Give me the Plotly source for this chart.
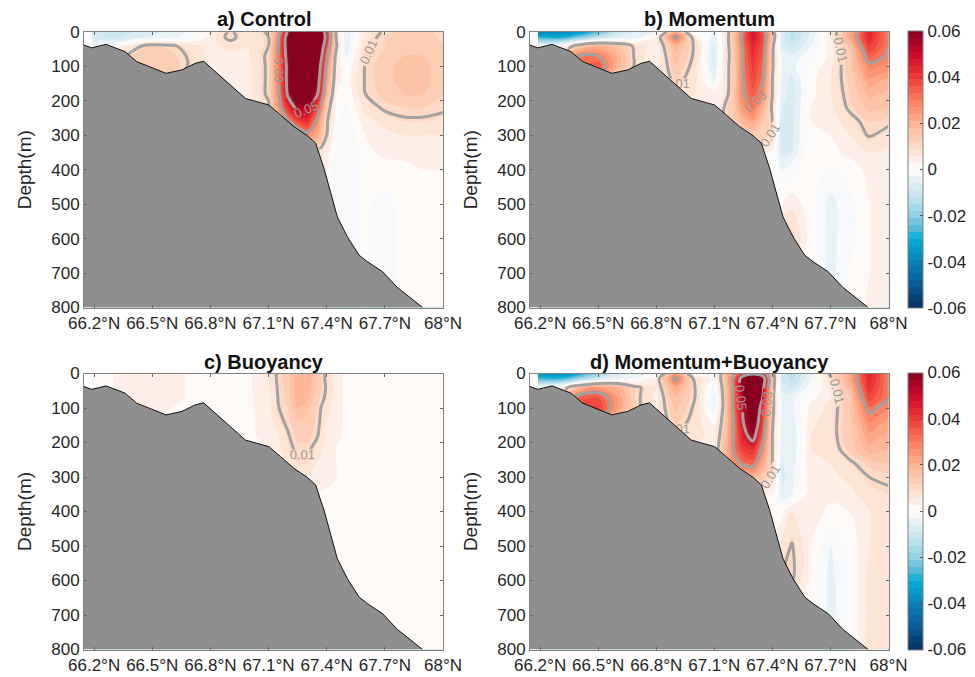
import numpy as np
import plotly.graph_objects as go

titles = ["a) Control", "b) Momentum", "c) Buoyancy", "d) Momentum+Buoyancy"]
tick_lat = [66.2, 66.5, 66.8, 67.1, 67.4, 67.7, 68.0]
tick_lat_text = ["66.2°N", "66.5°N", "66.8°N", "67.1°N", "67.4°N", "67.7°N", "68°N"]
tick_depth = [0, 100, 200, 300, 400, 500, 600, 700, 800]
cbar_vals = [-0.06, -0.04, -0.02, 0, 0.02, 0.04, 0.06]
cbar_text = ["-0.06", "-0.04", "-0.02", "0", "0.02", "0.04", "0.06"]

bathy_lat = [66.148, 66.188, 66.262, 66.36, 66.42, 66.498, 66.571, 66.653, 66.722, 66.765, 66.817, 66.903,
             66.981, 67.041, 67.102, 67.162, 67.231, 67.30, 67.343, 67.386, 67.455, 67.507, 67.567, 67.61,
             67.688, 67.765, 67.895]
bathy_depth = [38, 46, 36, 57, 86, 104, 120, 110, 91, 85, 110, 154,
               193, 203, 212, 241, 275, 301, 323, 396, 537, 595, 648, 667,
               696, 742, 800]

lat = [66.19, 66.3, 66.4, 66.5, 66.6, 66.7, 66.8, 66.9, 67.0, 67.1, 67.15, 67.2,
       67.25, 67.3, 67.35, 67.4, 67.45, 67.5, 67.6, 67.7, 67.8, 67.9, 68.0]
depth = [0, 15, 40, 70, 100, 140, 180, 220, 260, 300, 350, 400, 500, 600, 700, 800]

# values in thousandths
control = [
 [-6,-11,-9,-7,-5,-2,3,11,6,11,25,52,75,80,75,42,8,-6,6,11,13,13,11],
 [-8,-10,-7,-5,-4,-1,4,12,6,10,28,58,80,85,78,45,9,-6,7,12,14,14,11],
 [-3,0,8,12,11,7,5,7,6,10,30,58,85,90,75,38,11,-6,9,12,15,15,12],
 [3,6,12,14,13,9,5,5,6,11,30,56,85,90,68,32,7,-3,10,13,15,15,12],
 [3,6,12,14,14,9,5,5,5,11,29,54,82,88,62,28,6,0,10.5,14,16,16,13],
 [3,5,8,9,9,7,5,5,5,11,29,54,78,80,58,24,5,1,10.5,14,16,16,13],
 [3,5,6,6,6,5,4,4,5,11,28,52,72,68,52,20,3,0,10,13,15,15,12],
 [3,4,4,4,4,4,4,4,5,9,25,42,53,53,38,14,2,-1,7,11,12,12,11],
 [3,3,3,3,3,4,4,4,5,8,10,28,38,42,28,11,1,-2,5,7,9,9,8],
 [3,3,3,3,3,3,3,3,4,5,6,10,20,27,22,10,-1,-3,3,5,6,6,6],
 [3,3,3,3,3,3,3,3,3,3,4,5,10,12,10,5,-2,-3,2,4,4,4,4],
 [3,3,3,3,3,3,3,3,3,3,3,3,4,4,4,3,-2,-2,1,1,2,3,3],
 [3,3,3,3,3,3,3,3,3,3,3,3,3,3,2,1,-1,-1,0.5,-1,1,2,2],
 [3,3,3,3,3,3,3,3,3,3,3,3,3,3,2,1,-1,-1,0.5,-1.5,1,2,2],
 [3,3,3,3,3,3,3,3,3,3,3,3,3,3,2,1,-1,-1,0.5,-1.5,1,2,2],
 [3,3,3,3,3,3,3,3,3,3,3,3,3,3,2,1,-1,-1,0.5,-1,1,2,2],
]
momentum = [
 [-38,-38,-35,-25,-10,-6,-4,22,-2,-3,6,14,32,48,36,14,-6,-13,-6,5,20,45,30],
 [-28,-30,-22,-12,-6,-4,4,32,6,-5,5,16,34,47,38,16,-8,-13,-5,5,22,44,30],
 [-3,0,14,20,16,8,4,20,9,-7,5,15,32,44,36,12,-7,-10,-3,4,16,40,30],
 [1,10,30,30,20,8,3,17,9,-8,5,14,31,42,35,11,-4,-5,-1,4,14,34,29],
 [1,10,32,36,20,8,3,15,8,-7,6,14,31,40,33,11,-3,-4,1,5,14,28,26],
 [1,5,15,18,10,5,3,12,7,-3,6,14,30,38,31,10,-4,-7,2,6,13,23,20],
 [1,3,5,6,5,3,3,8,6,3,6,15,29,35,27,10,-4,-8,2,6,12,19,17],
 [1,2,2,2,2,2,2,4,4,3,10,15,26,30,20,9,-6,-8,3,5,11,16,15],
 [2,2,2,2,2,2,2,3,3,3,11,14,19,23,15,10,-8,-7,3,4,8,12,11],
 [2,2,2,2,2,2,2,2,2,6,8,12,14,14,14,10,-9,-7,3,3,6,10.5,8],
 [2,2,2,2,2,2,2,2,2,3,3,3,3,3,3,2,-7,-6,3,2,4,6,5],
 [2,2,2,2,2,2,2,2,2,2,2,2,2,2,2,0,-3,-1,2,-1,1,4,4],
 [2,2,2,2,2,2,2,2,2,2,2,2,2,2,2,2,3,5,1,-4,-1,3,4],
 [2,2,2,2,2,2,2,2,2,2,2,2,2,2,2,2,10.4,10.4,1,-4,-1,3,4],
 [2,2,2,2,2,2,2,2,2,2,2,2,2,2,2,2,2,2,2,-4,0,3,4],
 [2,2,2,2,2,2,2,2,2,2,2,2,2,2,2,2,2,2,2,-2,-1,4,6],
]
buoyancy = [
 [1,3,5,5,4,2.5,2.5,2.5,2.5,6,11,14,20,20,14,9,4,2.5,2.5,2.5,2.5,2.5,2.5],
 [1,3,5,5,4,2.5,2.5,2.5,2.5,6,11,14,20,21,14,9,4,2.5,2.5,2.5,2.5,2.5,2.5],
 [2,3,5,5,4,2.5,2.5,2.5,2.5,6,10.5,13,21,21,14,9.5,4,2.5,2.5,2.5,2.5,2.5,2.5],
 [2.5,3,5,5,4,2.5,2.5,2.5,2.5,5,10.2,13,20,19,13,9,4,2.5,2.5,2.5,2.5,2.5,2.5],
 [2.5,2.5,3,3.5,3,2.5,2.5,2.5,2.5,5,9.8,12,18,16,12,7,4,2.5,2.5,2.5,2.5,2.5,2.5],
 [2.5,2.5,2.5,2.5,2.5,2.5,2.5,2.5,2.5,4,8.5,11,15,14,11.5,6,4,2.5,2.5,2.5,2.5,2.5,2.5],
 [2.5,2.5,2.5,2.5,2.5,2.5,2.5,2.5,2.5,4,6,9.5,13,13,10.5,5,3.5,2.5,2.5,2.5,2.5,2.5,2.5],
 [2.5,2.5,2.5,2.5,2.5,2.5,2.5,2.5,2.5,3,5,8.5,11,11,8,4.5,3,2.5,2.5,2.5,2.5,2.5,2.5],
 [2.5,2.5,2.5,2.5,2.5,2.5,2.5,2.5,2.5,3,5,6,9,9,6,4,3,2.5,2.5,2.5,2.5,2.5,2.5],
 [2.5,2.5,2.5,2.5,2.5,2.5,2.5,2.5,2.5,2.5,4,5,5,5.5,5,4,3,2.5,2.5,2.5,2.5,2.5,2.5],
 [2.5,2.5,2.5,2.5,2.5,2.5,2.5,2.5,2.5,2.5,2.5,2.5,2.5,2.5,2.5,2.5,2.5,2.5,2.5,2.5,2.5,2.5,2.5],
 [2.5,2.5,2.5,2.5,2.5,2.5,2.5,2.5,2.5,2.5,2.5,2.5,2.5,2.5,2.5,2.5,2.5,2.5,2.5,2.5,2.5,2.5,2.5],
 [2.5,2.5,2.5,2.5,2.5,2.5,2.5,2.5,2.5,2.5,2.5,2.5,2.5,2.5,2.5,2.5,2.5,2.5,2.5,2.5,2.5,2.5,2.5],
 [2.5,2.5,2.5,2.5,2.5,2.5,2.5,2.5,2.5,2.5,2.5,2.5,2.5,2.5,2.5,2.5,2.5,2.5,2.5,2.5,2.5,2.5,2.5],
 [2.5,2.5,2.5,2.5,2.5,2.5,2.5,2.5,2.5,2.5,2.5,2.5,2.5,2.5,2.5,2.5,2.5,2.5,2.5,2.5,2.5,2.5,2.5],
 [2.5,2.5,2.5,2.5,2.5,2.5,2.5,2.5,2.5,2.5,2.5,2.5,2.5,2.5,2.5,2.5,2.5,2.5,2.5,2.5,2.5,2.5,2.5],
]
combined = [
 [-36,-36,-32,-20,-8,-5,-2,24,1,3,13,28,42,47,42,14,-8,-14,-4,11,20,45,30],
 [-26,-28,-18,-8,-3,-2,6,32,8,2,14,32,60,85,58,16,-9,-13,-3,9,22,44,30],
 [-2,4,18,24,20,11,6,22,10,-2,13,32,60,85,55,14,-7,-9,-1,6,18,42,30],
 [2,12,34,36,24,11,5,18,10,-4,12,32,56,78,50,12,-4,-4,2,6,15,38,30],
 [2,12,38,40,24,11,5,16,9,-3,12,32,52,72,42,12,-3,-4,4,7,15,32,27],
 [2,6,18,24,13,7,5,13,8,2,13,30,50,65,38,11,-4,-5,5,8,14,27,23],
 [2,4,7,8,6,5,5,9,7,5,14,30,46,55,34,10,-4,-6,6,8,14,23,20],
 [2,3,3,3,3,3,3,5,5,6,16,31,40,42,28,10,-5,-6,6,7,13,20,18],
 [2,3,3,3,3,3,3,4,5,6,15,26,32,34,22,10,-6,-5,6,6,9,13,15],
 [2,3,3,3,3,3,3,3,3,7,10,14,18,20,14,10,-7,-4,5,5,7,10,11],
 [2,3,3,3,3,3,3,3,3,3,3,3,4,4,3,3,-5,-3,5,4,5,8,9],
 [2,3,3,3,3,3,3,3,3,3,3,3,3,3,3,2,2,6,5,2,3,6,7],
 [2,3,3,3,3,3,3,3,3,3,3,3,3,3,3,3,7,10.4,3,-3,1,6,8],
 [2,3,3,3,3,3,3,3,3,3,3,3,3,3,3,3,10.4,10.4,2,-4,0,7,8],
 [2,3,3,3,3,3,3,3,3,3,3,3,3,3,3,3,3,3,3,-4,0,7,8],
 [2,3,3,3,3,3,3,3,3,3,3,3,3,3,3,3,3,3,3,-2,-1,8,9],
]
panels = [control, momentum, buoyancy, combined]

colorscale = [
 [0.0, "#053061"], [0.083, "#0a5a96"], [0.167, "#0a7fb8"], [0.25, "#00aed6"],
 [0.29, "#5cbad6"], [0.333, "#8fd0e3"], [0.417, "#cfe8f0"], [0.48, "#f2f5f8"], [0.5, "#ffffff"],
 [0.54, "#fdeee6"], [0.583, "#fddcc8"], [0.667, "#fdb595"], [0.75, "#fb7d5b"],
 [0.833, "#ee3b37"], [0.917, "#cc0a2a"], [1.0, "#880020"],
]

W, H = 975, 677
x_px = [(84, 443), (530, 888.5), (84, 443), (530, 888.5)]
y_px = [(32, 307.5), (32, 307.5), (373.5, 649.5), (373.5, 649.5)]
title_y = [19, 19, 362, 362]

fig = go.Figure()
FONT = "Liberation Sans, Arial, sans-serif"
annotations = []

for i, z in enumerate(panels):
    n = "" if i == 0 else str(i + 1)
    xa, ya = "x" + n, "y" + n
    zv = (np.array(z, dtype=float) / 1000).tolist()
    has_bar = i in (1, 3)
    trace = dict(
        x=lat, y=depth, z=zv, xaxis=xa, yaxis=ya, colorscale=colorscale, zmin=-0.06, zmax=0.06,
        contours=dict(coloring="fill", start=-0.06, end=0.06, size=0.003, showlines=False),
        line=dict(width=0), hoverinfo="skip", showscale=has_bar,
    )
    if has_bar:
        trace["colorbar"] = dict(
            x=908 / W, xanchor="left", y=1 - (y_px[i][0] - 1) / H, yanchor="top",
            lenmode="pixels", len=y_px[i][1] - y_px[i][0] + 1, thicknessmode="pixels", thickness=15,
            xpad=0, ypad=0, tickmode="array", tickvals=cbar_vals, ticktext=cbar_text,
            ticks="inside", ticklen=3, tickcolor="#555555", outlinecolor="#808080", outlinewidth=1,
            tickfont=dict(family=FONT, size=17, color="#262626"),
        )
    fig.add_trace(go.Contour(**trace))
    fig.add_trace(go.Contour(
        x=lat, y=depth, z=zv, xaxis=xa, yaxis=ya, showscale=False, hoverinfo="skip",
        contours=dict(coloring="none", start=0.01, end=0.05, size=0.02, showlabels=True,
                      labelformat=".2f", labelfont=dict(family=FONT, size=13, color="#9a9a9a")),
        line=dict(color="#a2a2a2", width=3),
    ))
    fig.add_trace(go.Scatter(
        x=bathy_lat + [bathy_lat[-1], bathy_lat[0]], y=bathy_depth + [800, 800], xaxis=xa, yaxis=ya,
        mode="none", fill="toself", fillcolor="#8f8f8f", hoverinfo="skip", showlegend=False,
    ))
    fig.add_trace(go.Scatter(
        x=bathy_lat, y=bathy_depth, xaxis=xa, yaxis=ya, mode="lines",
        line=dict(color="#111111", width=1), hoverinfo="skip", showlegend=False,
    ))
    axis_common = dict(showgrid=False, zeroline=False, ticks="inside", ticklen=3, tickcolor="#666666",
                       showline=True, linecolor="#808080", linewidth=1, mirror="ticks",
                       tickfont=dict(family=FONT, size=17, color="#262626"))
    xkey, ykey = "xaxis" + n, "yaxis" + n
    fig.update_layout({
        xkey: dict(domain=[x_px[i][0] / W, x_px[i][1] / W], range=[66.148, 68.0], anchor=ya,
                   tickmode="array", tickvals=tick_lat, ticktext=tick_lat_text, **axis_common),
        ykey: dict(domain=[1 - y_px[i][1] / H, 1 - y_px[i][0] / H], range=[800, 0], anchor=xa,
                   tickmode="array", tickvals=tick_depth,
                   title=dict(text="Depth(m)", font=dict(family=FONT, size=19, color="#262626"), standoff=14),
                   **axis_common),
    })
    annotations.append(dict(
        text="<b>%s</b>" % titles[i], x=(x_px[i][0] + x_px[i][1]) / 2 / W, y=1 - title_y[i] / H,
        xref="paper", yref="paper", xanchor="center", yanchor="middle", showarrow=False,
        font=dict(family=FONT, size=20, color="#111111"),
    ))

fig.update_layout(
    width=W, height=H, margin=dict(l=0, r=0, t=0, b=0, autoexpand=False), paper_bgcolor="white",
    plot_bgcolor="white", showlegend=False, annotations=annotations,
)
fig.write_html("out.html", config=dict(displayModeBar=False),
               post_script="document.body.style.margin='0';document.body.style.overflow='hidden';")
